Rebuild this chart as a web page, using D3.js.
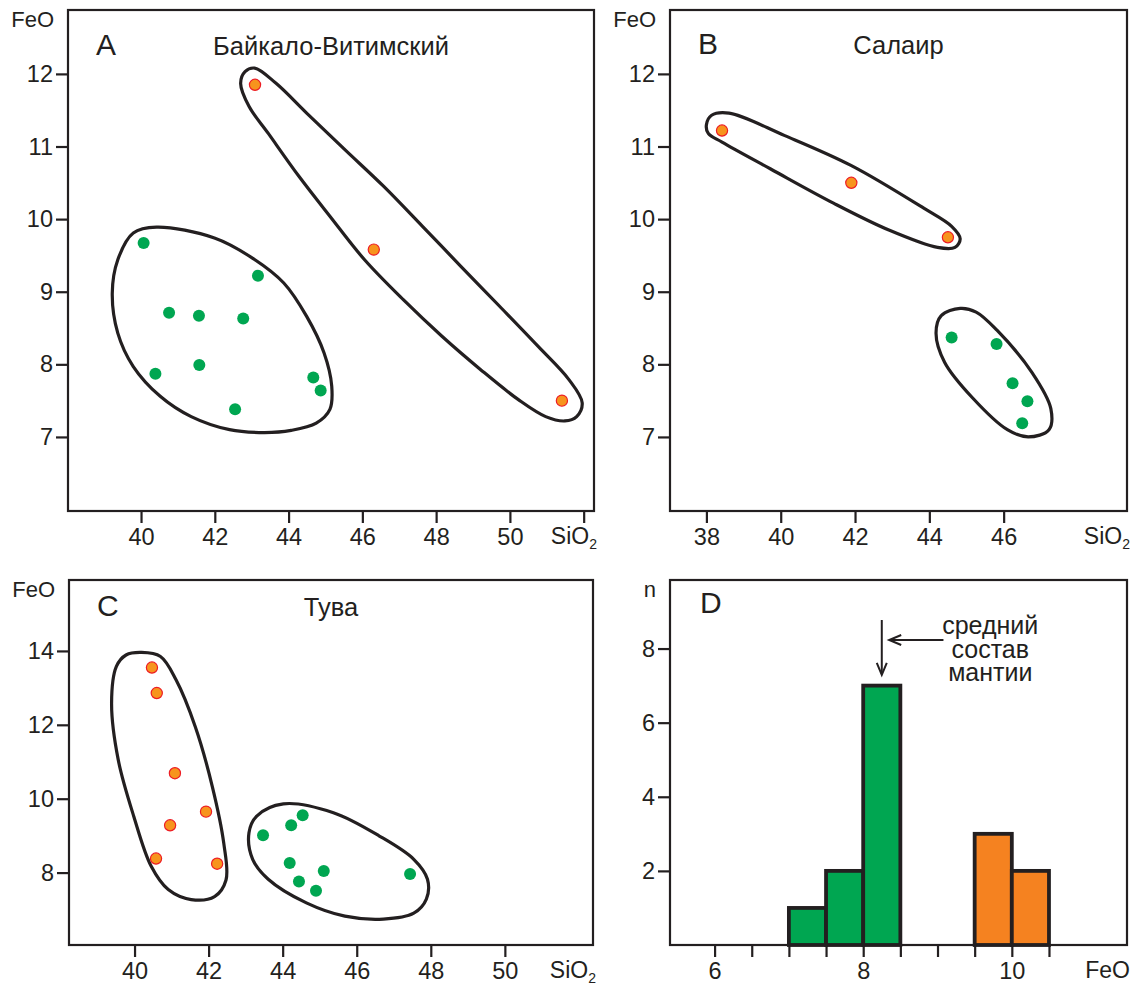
<!DOCTYPE html>
<html>
<head>
<meta charset="utf-8">
<script src="https://cdn.jsdelivr.net/npm/d3@7"></script>
<style>
  html, body { margin: 0; padding: 0; background: #fff; }
  svg { display: block; }
  text { font-family: 'Liberation Sans', Arial, sans-serif; fill: #231f20; }
</style>
</head>
<body>
<script>
// ---------------------- DATA ----------------------

// Panel A: Байкало-Витимский  [SiO2, FeO]
const baikalGreen = [[40.07, 9.67], [43.17, 9.22], [40.76, 8.71], [41.57, 8.67], [42.77, 8.63],
                     [40.39, 7.87], [41.58, 7.99], [42.55, 7.38], [44.67, 7.82], [44.87, 7.64]];
const baikalOrange = [[43.09, 11.85], [46.31, 9.58], [51.41, 7.50]];
const baikalGreenHull = [[40.42, 9.89], [41.99, 9.74], [43.03, 9.46], [43.87, 9.12], [44.49, 8.66],
                         [44.96, 8.16], [45.17, 7.70], [45.12, 7.38], [44.75, 7.19], [44.07, 7.09],
                         [43.34, 7.06], [42.40, 7.10], [41.36, 7.28], [40.52, 7.56], [39.79, 7.97],
                         [39.37, 8.43], [39.22, 8.98], [39.37, 9.44], [39.79, 9.81]];
const baikalOrangeHull = [[43.08, 12.08], [43.66, 11.87], [44.49, 11.46], [45.54, 10.95], [46.58, 10.45],
                          [47.63, 9.90], [48.67, 9.35], [49.72, 8.80], [50.76, 8.25], [51.60, 7.79],
                          [51.96, 7.47], [51.81, 7.28], [51.49, 7.22], [50.97, 7.28], [50.24, 7.51],
                          [49.20, 7.93], [48.15, 8.39], [47.11, 8.89], [46.06, 9.44], [45.12, 10.04],
                          [44.28, 10.59], [43.45, 11.18], [42.93, 11.55], [42.70, 11.87], [42.82, 12.03]];

// Panel B: Салаир
const salairGreen = [[44.60, 8.37], [45.81, 8.28], [46.24, 7.74], [46.64, 7.49], [46.50, 7.19]];
const salairOrange = [[38.42, 11.22], [41.90, 10.50], [44.50, 9.75]];
const salairGreenHull = [[44.83, 8.77], [44.32, 8.67], [44.18, 8.43], [44.41, 8.03], [45.16, 7.54],
                         [46.10, 7.10], [46.66, 7.00], [47.22, 7.10], [47.27, 7.39], [46.76, 7.89],
                         [45.82, 8.47], [45.26, 8.72]];
const salairOrangeHull = [[38.00, 11.30], [38.14, 11.43], [38.61, 11.46], [40.11, 11.15], [41.89, 10.74],
                          [43.85, 10.15], [44.60, 9.90], [44.83, 9.73], [44.69, 9.61], [44.22, 9.61],
                          [42.91, 9.85], [41.42, 10.22], [39.73, 10.69], [38.42, 11.06], [38.05, 11.18]];

// Panel C: Тува
const tuvaGreen = [[43.47, 9.01], [44.23, 9.28], [44.54, 9.55], [44.19, 8.26], [45.11, 8.04],
                   [44.44, 7.76], [44.90, 7.51], [47.44, 7.96]];
const tuvaOrange = [[40.47, 13.55], [40.60, 12.86], [41.09, 10.69], [41.93, 9.65], [40.96, 9.28],
                    [40.58, 8.38], [42.23, 8.24]];
const tuvaGreenHull = [[44.02, 9.86], [45.37, 9.62], [46.61, 8.99], [47.54, 8.36], [47.91, 7.82],
                       [47.88, 7.28], [47.54, 6.90], [46.72, 6.74], [45.68, 6.82], [44.64, 7.18],
                       [43.61, 7.82], [43.19, 8.36], [43.09, 9.08], [43.30, 9.53]];
const tuvaOrangeHull = [[40.19, 13.96], [40.70, 13.85], [41.12, 13.22], [41.64, 11.95], [42.10, 10.33],
                        [42.41, 8.79], [42.47, 7.80], [42.16, 7.35], [41.53, 7.27], [40.91, 7.54],
                        [40.45, 8.17], [39.98, 9.52], [39.56, 11.05], [39.38, 12.59], [39.51, 13.58],
                        [39.77, 13.89]];

// Panel D: histogram of FeO
const greenBinEdges = [7, 7.5, 8, 8.5];
const greenCounts = [1, 2, 7];
const orangeBinEdges = [9.5, 10, 10.5];
const orangeCounts = [3, 2];
const mantleFeO = 8.25;
const mantleLabel = ["средний", "состав", "мантии"];

// ticks
const ticksA_x = [40, 42, 44, 46, 48, 50, 52];
const ticksB_x = [38, 40, 42, 44, 46];
const ticksC_x = [40, 42, 44, 46, 48, 50];
const ticksAB_y = [7, 8, 9, 10, 11, 12];
const ticksC_y = [8, 10, 12, 14];
const ticksD_x = [6, 6.5, 7, 7.5, 8, 8.5, 9, 9.5, 10, 10.5];
const ticksD_y = [2, 4, 6, 8];

// ---------------------- STYLE ----------------------

const INK = "#231f20";
const GREEN = "#00a651";
const ORANGE = "#f7941d";
const ORANGE_BAR = "#f58220";
const RED = "#ed1c24";

const svg = d3.select("body").append("svg")
    .attr("width", 1134)
    .attr("height", 987);

// ---------------------- HELPERS ----------------------

function frame(g, box) {
    g.append("rect")
        .attr("x", box.left).attr("y", box.top)
        .attr("width", box.right - box.left).attr("height", box.bottom - box.top)
        .attr("fill", "none").attr("stroke", INK).attr("stroke-width", 2.2);
}

function drawAxes(g, box, x, y, xTicks, yTicks, xFmt) {
    const ax = g.append("g")
        .attr("transform", `translate(0,${box.bottom})`)
        .call(d3.axisBottom(x).tickValues(xTicks).tickSize(12).tickPadding(5).tickFormat(xFmt));
    const ay = g.append("g")
        .attr("transform", `translate(${box.left},0)`)
        .call(d3.axisLeft(y).tickValues(yTicks).tickSize(12).tickPadding(3).tickFormat(d3.format("d")));
    [ax, ay].forEach(a => {
        a.select(".domain").remove();
        a.selectAll("line").attr("stroke", INK).attr("stroke-width", 2.2);
        a.selectAll("text").attr("fill", INK).style("font-size", "23.5px")
            .style("font-family", "'Liberation Sans', Arial, sans-serif");
    });
}

function axisTitles(g, box, xName, xSub, yName) {
    const t = g.append("text")
        .attr("x", box.right + 3).attr("y", box.bottom + 33)
        .attr("text-anchor", "end").style("font-size", "23px")
        .text(xName);
    if (xSub) t.append("tspan").attr("dy", 5).style("font-size", "14px").text(xSub);
    g.append("text")
        .attr("x", box.left - 14).attr("y", box.top + 17)
        .attr("text-anchor", "end").style("font-size", "22px")
        .text(yName);
}

function scatterPanel(cfg) {
    const g = svg.append("g");
    const box = cfg.box;
    const x = d3.scaleLinear().domain(cfg.xDomain).range([box.left, box.right]);
    const y = d3.scaleLinear().domain(cfg.yDomain).range([box.bottom, box.top]);

    frame(g, box);
    drawAxes(g, box, x, y, cfg.xTicks, cfg.yTicks, d => cfg.xLabelled.includes(d) ? d : "");
    axisTitles(g, box, "SiO", "2", "FeO");

    g.append("text")
        .attr("x", box.left + 28).attr("y", box.top + cfg.letterDy)
        .style("font-size", "30px").text(cfg.letter);
    g.append("text")
        .attr("x", (box.left + box.right) / 2).attr("y", box.top + cfg.letterDy)
        .attr("text-anchor", "middle").style("font-size", "25.5px").text(cfg.title);

    const hull = d3.line()
        .x(d => x(d[0])).y(d => y(d[1]))
        .curve(d3.curveCatmullRomClosed.alpha(0.5));
    g.selectAll(".hull")
        .data(cfg.hulls)
        .enter().append("path")
        .attr("class", "hull")
        .attr("d", hull)
        .attr("fill", "none").attr("stroke", INK).attr("stroke-width", 3.2);

    g.selectAll(".green")
        .data(cfg.green)
        .enter().append("circle")
        .attr("class", "green")
        .attr("cx", d => x(d[0])).attr("cy", d => y(d[1])).attr("r", 6)
        .attr("fill", GREEN);

    g.selectAll(".orange")
        .data(cfg.orange)
        .enter().append("circle")
        .attr("class", "orange")
        .attr("cx", d => x(d[0])).attr("cy", d => y(d[1])).attr("r", 5.6)
        .attr("fill", ORANGE).attr("stroke", RED).attr("stroke-width", 1.2);
}

// ---------------------- SCATTER PANELS ----------------------

scatterPanel({
    box: {left: 68, right: 594, top: 10, bottom: 511},
    xDomain: [38.02, 52.28], yDomain: [5.98, 12.88],
    xTicks: ticksA_x, xLabelled: [40, 42, 44, 46, 48, 50], yTicks: ticksAB_y,
    letter: "A", title: "Байкало-Витимский", letterDy: 45,
    green: baikalGreen, orange: baikalOrange,
    hulls: [baikalGreenHull, baikalOrangeHull]
});

scatterPanel({
    box: {left: 670, right: 1127, top: 10, bottom: 511},
    xDomain: [37.02, 49.32], yDomain: [5.98, 12.88],
    xTicks: ticksB_x, xLabelled: ticksB_x, yTicks: ticksAB_y,
    letter: "B", title: "Салаир", letterDy: 44,
    green: salairGreen, orange: salairOrange,
    hulls: [salairGreenHull, salairOrangeHull]
});

scatterPanel({
    box: {left: 69, right: 593, top: 580, bottom: 945},
    xDomain: [38.23, 52.38], yDomain: [6.04, 15.92],
    xTicks: ticksC_x, xLabelled: ticksC_x, yTicks: ticksC_y,
    letter: "C", title: "Тува", letterDy: 36,
    green: tuvaGreen, orange: tuvaOrange,
    hulls: [tuvaGreenHull, tuvaOrangeHull]
});

// ---------------------- HISTOGRAM PANEL ----------------------

function histPanel() {
    const g = svg.append("g");
    const box = {left: 670, right: 1127, top: 580, bottom: 945};
    const x = d3.scaleLinear().domain([5.40, 11.55]).range([box.left, box.right]);
    const y = d3.scaleLinear().domain([0, 9.85]).range([box.bottom, box.top]);

    const bins = [];
    greenCounts.forEach((n, i) => bins.push({x0: greenBinEdges[i], x1: greenBinEdges[i + 1], n, fill: GREEN}));
    orangeCounts.forEach((n, i) => bins.push({x0: orangeBinEdges[i], x1: orangeBinEdges[i + 1], n, fill: ORANGE_BAR}));

    g.selectAll(".bar")
        .data(bins)
        .enter().append("rect")
        .attr("class", "bar")
        .attr("x", d => x(d.x0)).attr("width", d => x(d.x1) - x(d.x0))
        .attr("y", d => y(d.n)).attr("height", d => y(0) - y(d.n))
        .attr("fill", d => d.fill)
        .attr("stroke", INK).attr("stroke-width", 3.8);

    frame(g, box);
    drawAxes(g, box, x, y, ticksD_x, ticksD_y, d => [6, 8, 10].includes(d) ? d : "");
    axisTitles(g, box, "FeO", null, "n");

    g.append("text")
        .attr("x", box.left + 30).attr("y", box.top + 33)
        .style("font-size", "30px").text("D");

    // mantle arrow (vertical) and pointer arrow (horizontal)
    const ax = x(mantleFeO);
    const aTop = y(8.77), aTip = y(7.29);
    g.append("line").attr("x1", ax).attr("x2", ax).attr("y1", aTop).attr("y2", aTip - 1)
        .attr("stroke", INK).attr("stroke-width", 2);
    g.append("path")
        .attr("d", `M${ax - 5},${aTip - 12}L${ax},${aTip}L${ax + 5},${aTip - 12}`)
        .attr("fill", "none").attr("stroke", INK).attr("stroke-width", 2);

    const hy = y(8.23), hTip = x(8.35), hTail = x(9.08);
    g.append("line").attr("x1", hTail).attr("x2", hTip + 1).attr("y1", hy).attr("y2", hy)
        .attr("stroke", INK).attr("stroke-width", 2);
    g.append("path")
        .attr("d", `M${hTip + 12},${hy - 5}L${hTip},${hy}L${hTip + 12},${hy + 5}`)
        .attr("fill", "none").attr("stroke", INK).attr("stroke-width", 2);

    g.selectAll(".mlabel")
        .data(mantleLabel)
        .enter().append("text")
        .attr("class", "mlabel")
        .attr("x", x(9.71))
        .attr("y", (d, i) => y(8.39) + i * 23.5)
        .attr("text-anchor", "middle")
        .style("font-size", "25px")
        .text(d => d);
}

histPanel();
</script>
</body>
</html>
